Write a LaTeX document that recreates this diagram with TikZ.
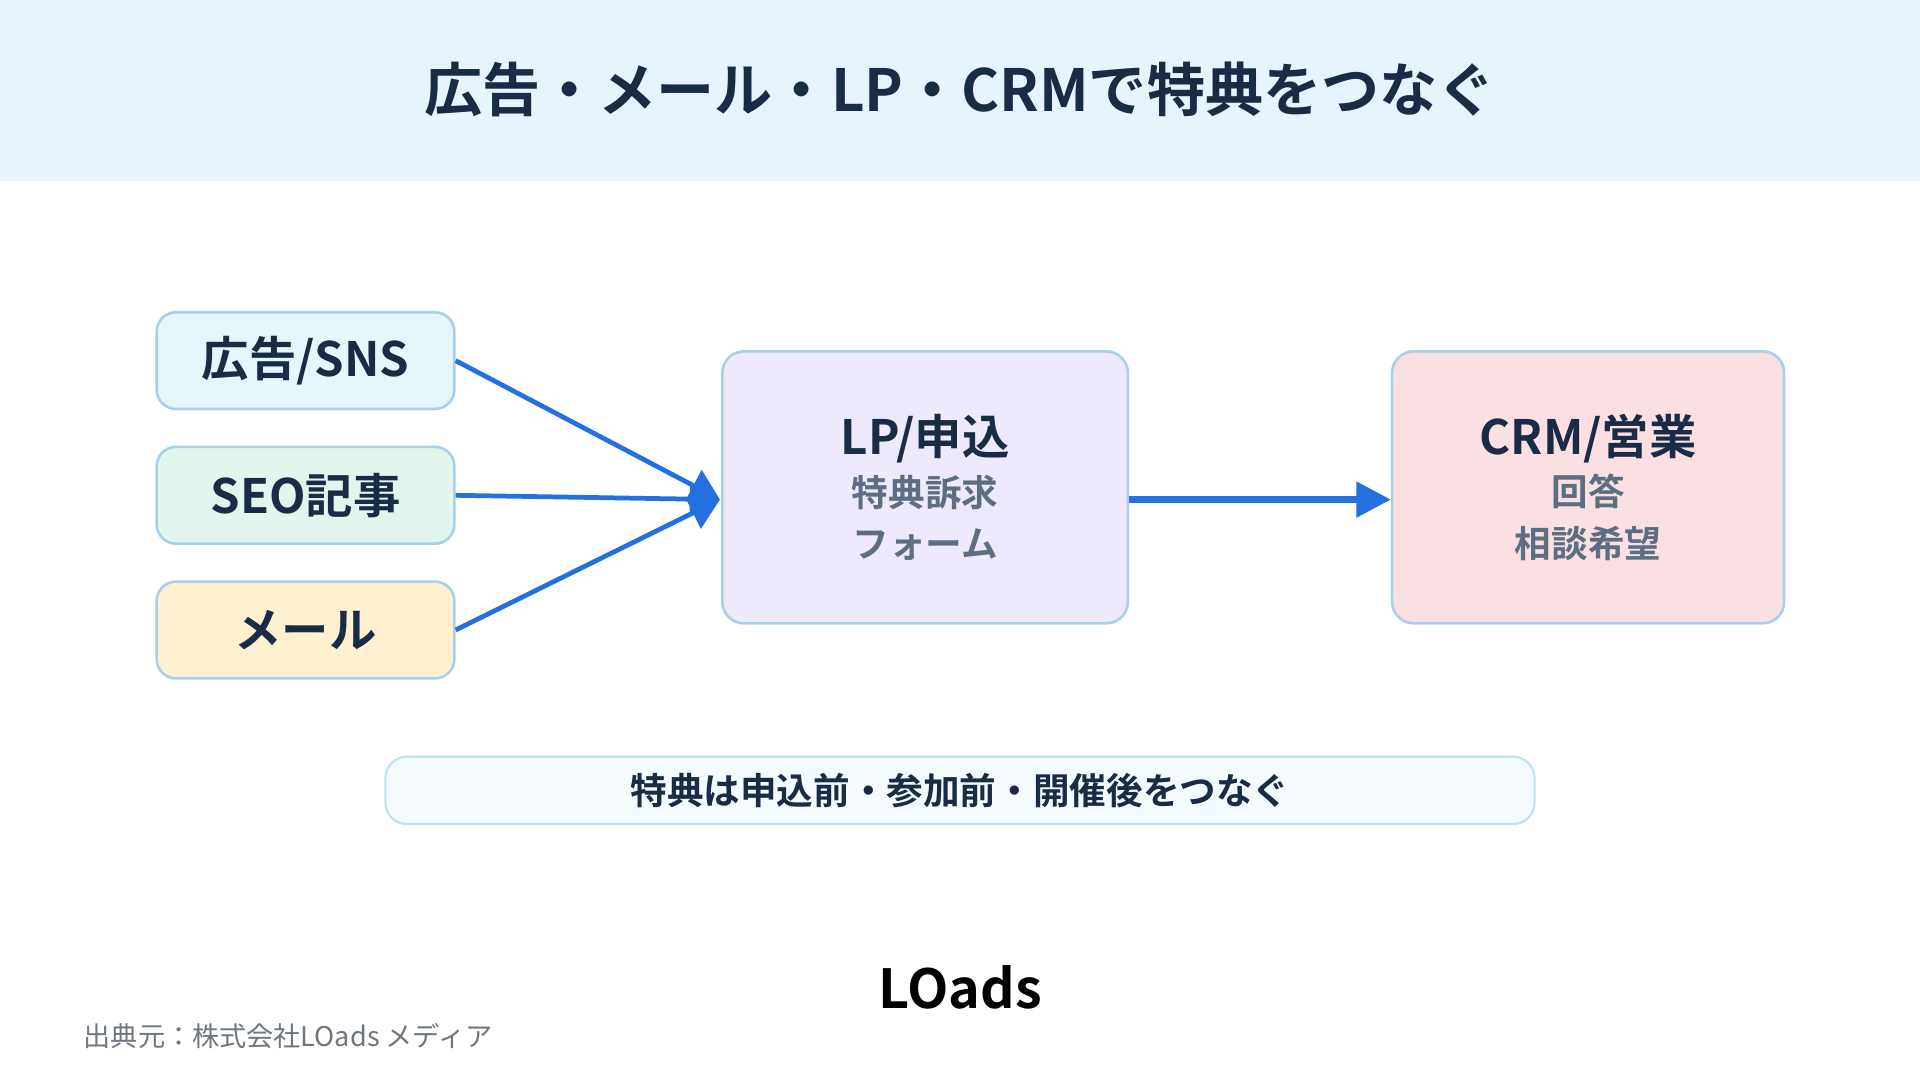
\documentclass[tikz,border=0pt]{standalone}
\usepackage{fontspec}
\setmainfont{Noto Sans CJK JP}[BoldFont={Noto Sans CJK JP Bold}]
\usetikzlibrary{arrows.meta}
\definecolor{navy}{HTML}{1A2B45}
\definecolor{subgray}{HTML}{5E6E82}
\definecolor{flow}{HTML}{2470E0}
\definecolor{edge}{HTML}{A9CFEA}

\newcommand{\headfont}{\bfseries\fontsize{11}{13}\selectfont\color{navy}}
\newcommand{\subfont}{\bfseries\fontsize{8.5}{10}\selectfont\color{subgray}}

\tikzset{
  src/.style={draw=edge, line width=0.6pt, rounded corners=4.5pt, minimum width=2.43cm, minimum height=0.79cm, font=\bfseries\fontsize{11}{13}\selectfont, text=navy},
  stage/.style={draw=edge, line width=0.6pt, rounded corners=5pt, minimum height=2.22cm, align=center, text=navy},
  link/.style={flow, line width=1.1pt, -{Triangle[length=7pt,width=8pt]}}
}

\begin{document}
\begin{tikzpicture}[x=0.01cm, y=-0.01cm]
 \useasboundingbox (0,0) rectangle (1568,882);
 \fill[fill={rgb,255:red,232;green,244;blue,253}] (0,0) rectangle (1568,148);
 \node[font=\bfseries\fontsize{13.5}{16}\selectfont, text=navy] (title) at (784,73) {広告・メール・LP・CRMで特典をつなぐ};
 % sources
 \node[src, fill={rgb,255:red,230;green,247;blue,252}] (ad) at (249.5,294.5) {広告/SNS};
 \node[src, fill={rgb,255:red,227;green,246;blue,238}] (seo) at (249.5,404.5) {SEO記事};
 \node[src, fill={rgb,255:red,253;green,241;blue,208}] (mail) at (249.5,514.5) {メール};
 % stages
 \node[stage, minimum width=3.31cm, fill={rgb,255:red,238;green,233;blue,251}] (lp) at (755.5,398)
   {\headfont LP/申込\\[0pt] \subfont 特典訴求\\ \subfont フォーム};
 \node[stage, minimum width=3.2cm, fill={rgb,255:red,251;green,224;blue,227}] (crm) at (1297,398)
   {\headfont CRM/営業\\[0pt] \subfont 回答\\ \subfont 相談希望};
 \coordinate (in) at (588,408);
 \draw[link] (ad.east) -- (in);
 \draw[link] (seo.east) -- (in);
 \draw[link] (mail.east) -- (in);
 \draw[link, line width=1.6pt, -{Triangle[length=8pt,width=8pt]}] (lp.east |- in) -- (crm.west |- in);
 % note
 \node[draw={rgb,255:red,191;green,224;blue,238}, line width=0.5pt, rounded corners=5pt, fill={rgb,255:red,245;green,250;blue,254},
   minimum width=9.38cm, minimum height=0.55cm, text=navy, font=\bfseries\fontsize{8.5}{10}\selectfont] (note) at (784,645.5)
   {特典は申込前・参加前・開催後をつなぐ};
 \node[font=\bfseries\fontsize{12.5}{14}\selectfont, text=black] (logo) at (784,806) {LOads};
 \node[anchor=west, font=\fontsize{6.3}{8}\selectfont, text={rgb,255:red,110;green,118;blue,128}] (credit) at (56,846) {出典元：株式会社LOads メディア};
\end{tikzpicture}
\end{document}
